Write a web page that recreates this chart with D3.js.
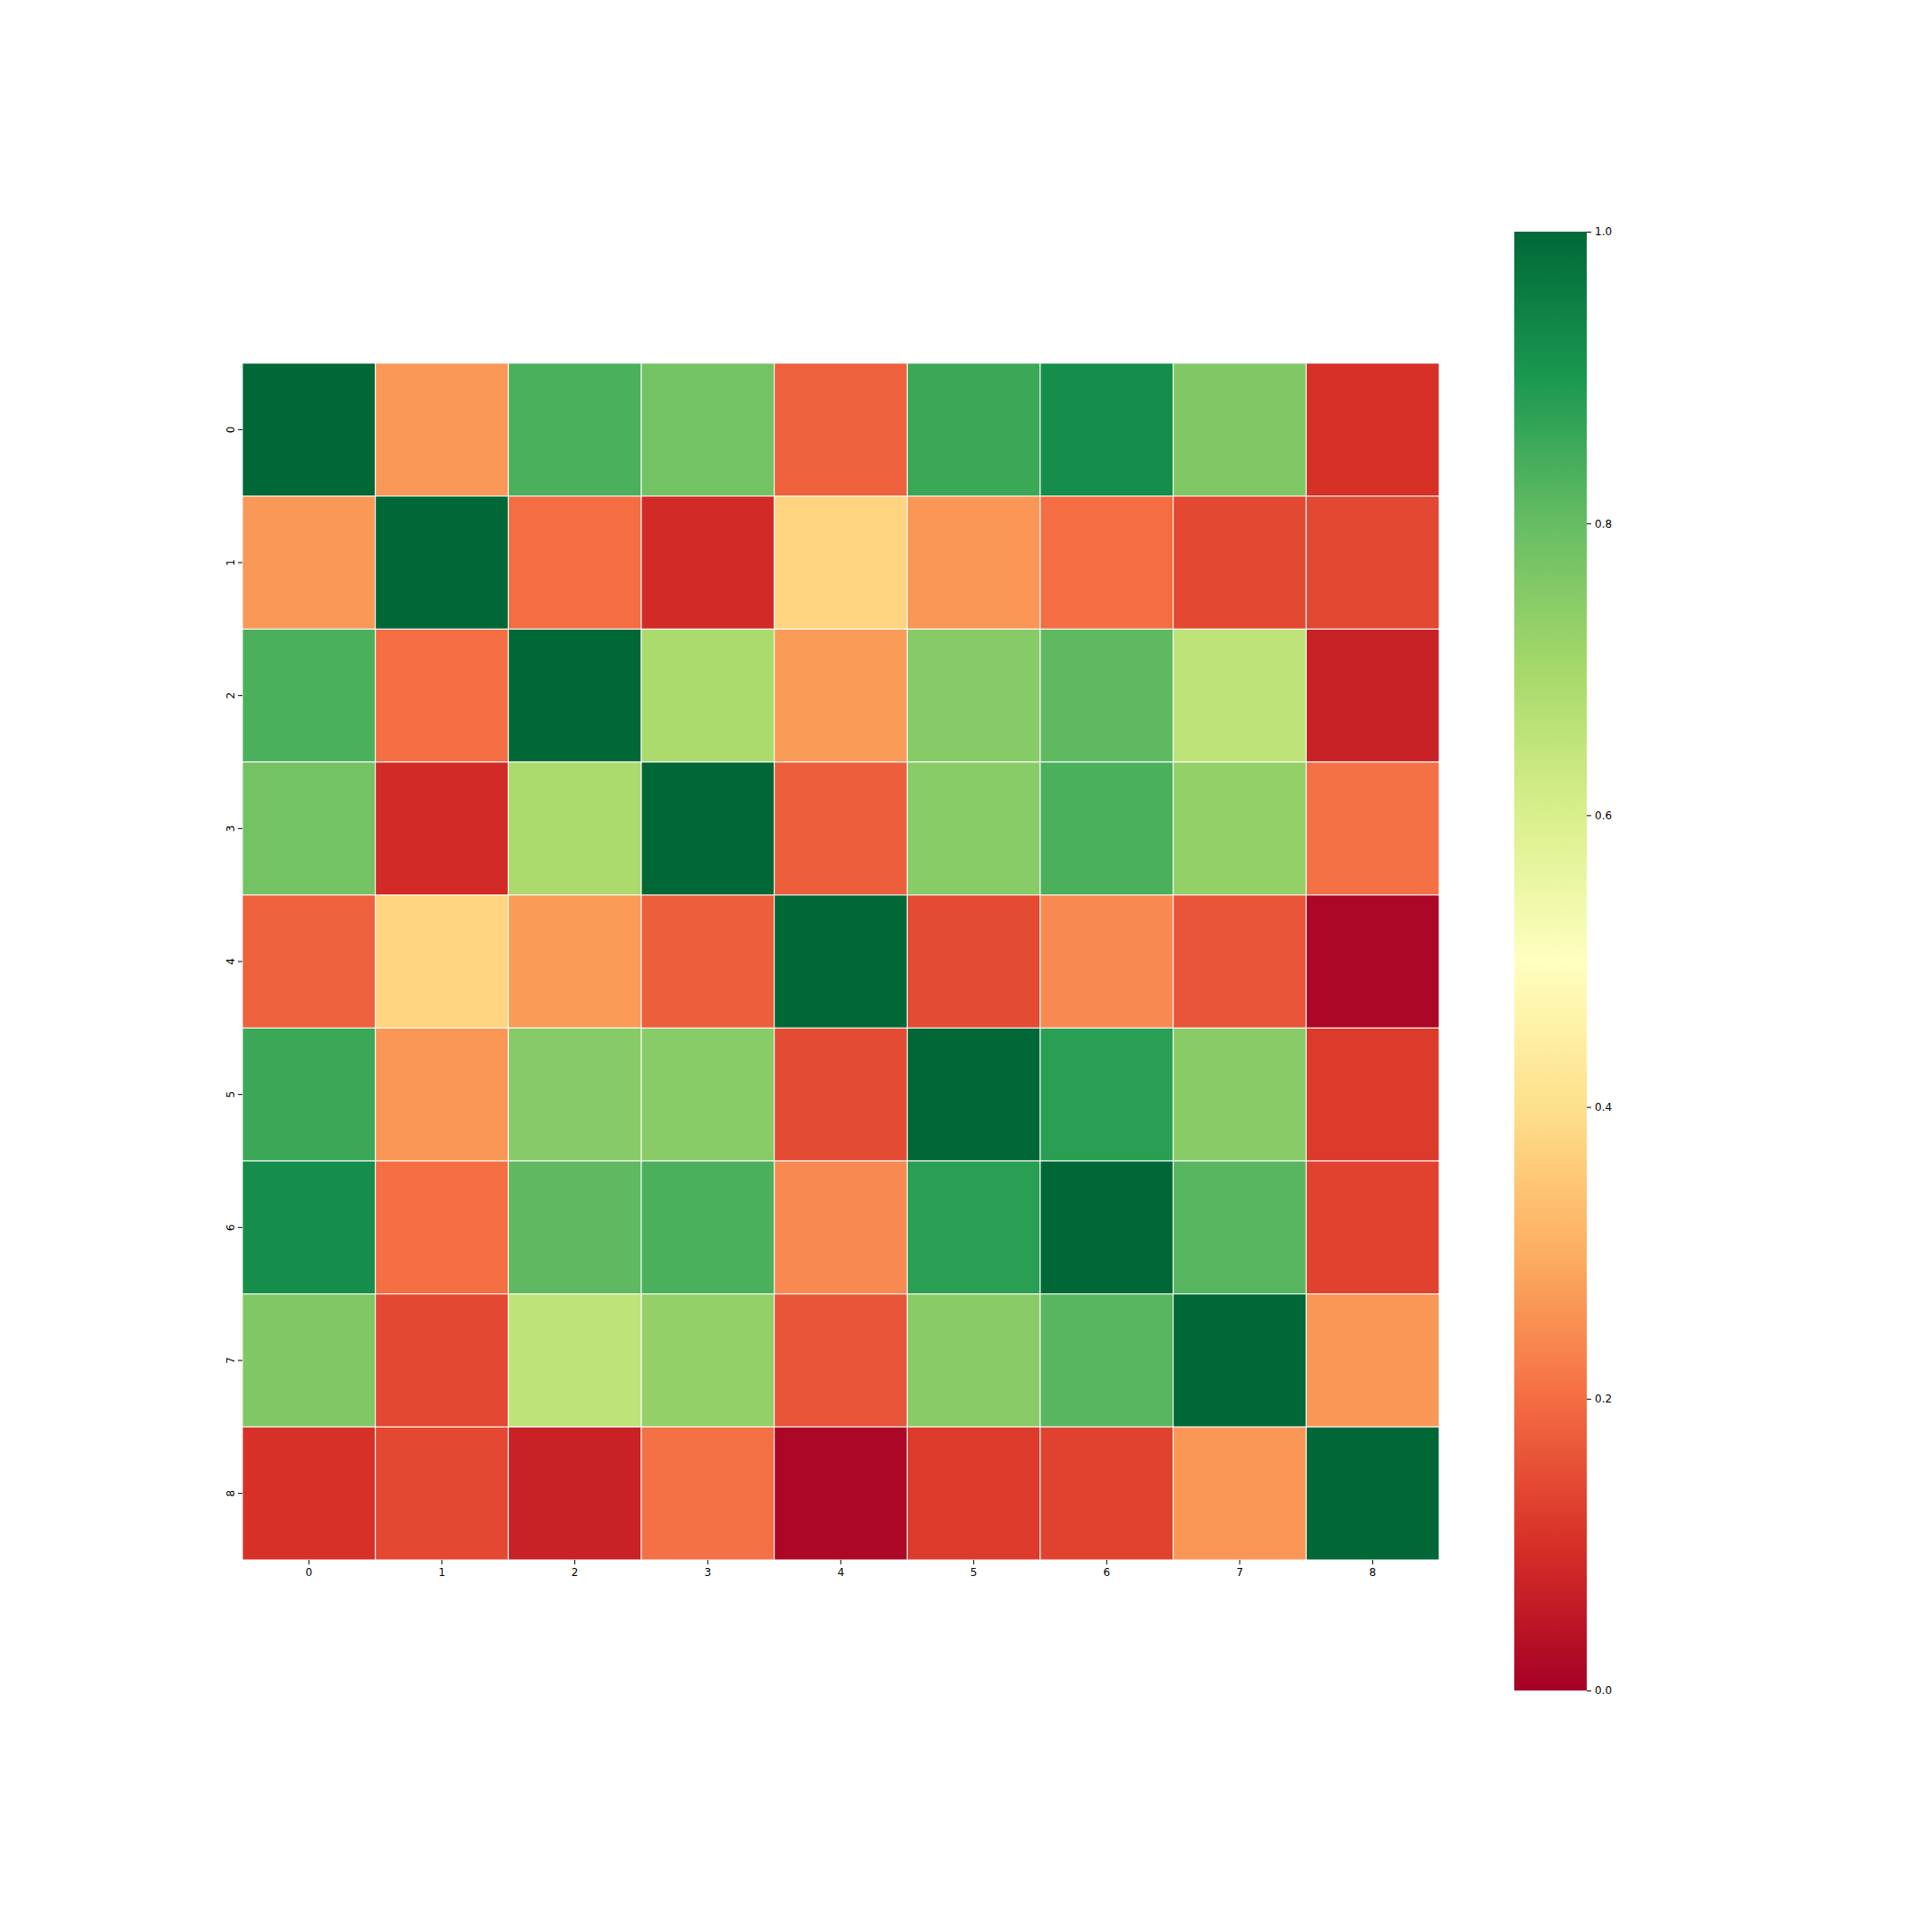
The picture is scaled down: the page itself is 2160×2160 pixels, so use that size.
<!DOCTYPE html>
<html><head><meta charset="utf-8">
<script src="https://cdn.jsdelivr.net/npm/d3@7"></script>
<style>body{margin:0;background:#fff}svg{display:block}text{font-family:"DejaVu Sans",sans-serif;fill:#000}</style>
</head><body>
<script>
const rowLabels = ["0","1","2","3","4","5","6","7","8"];
const colLabels = ["0","1","2","3","4","5","6","7","8"];
const values = [
 [1.000,0.266,0.836,0.780,0.180,0.857,0.920,0.760,0.100],
 [0.266,1.000,0.200,0.090,0.376,0.265,0.200,0.140,0.140],
 [0.836,0.200,1.000,0.690,0.270,0.750,0.810,0.655,0.070],
 [0.780,0.090,0.690,1.000,0.175,0.747,0.835,0.730,0.205],
 [0.180,0.376,0.270,0.175,1.000,0.144,0.245,0.160,0.014],
 [0.857,0.265,0.750,0.747,0.144,1.000,0.880,0.745,0.116],
 [0.920,0.200,0.810,0.835,0.245,0.880,1.000,0.820,0.130],
 [0.760,0.140,0.655,0.730,0.160,0.745,0.820,1.000,0.265],
 [0.100,0.140,0.070,0.205,0.014,0.116,0.130,0.265,1.000]
];
const cbTicks = [0.0,0.2,0.4,0.6,0.8,1.0];
const rdylgn = ["#a50026","#d73027","#f46d43","#fdae61","#fee08b","#ffffbf","#d9ef8b","#a6d96a","#66bd63","#1a9850","#006837"];

const W=2160,H=2160;
const svg=d3.select("body").append("svg").attr("width",W).attr("height",H);
const color=d3.scaleLinear().domain(d3.range(11).map(i=>i/10)).range(rdylgn).interpolate(d3.interpolateRgb).clamp(true);
const x=d3.scaleBand().domain(colLabels).range([271,1609]);
const y=d3.scaleBand().domain(rowLabels).range([406,1744]);

const cells=[];
values.forEach((r,i)=>r.forEach((v,j)=>cells.push({r:rowLabels[i],c:colLabels[j],v})));
svg.append("g").selectAll("rect").data(cells).join("rect")
 .attr("x",d=>x(d.c)).attr("y",d=>y(d.r))
 .attr("width",x.bandwidth()).attr("height",y.bandwidth())
 .attr("fill",d=>color(d.v)).attr("stroke","#fff").attr("stroke-width",1);

const xa=svg.append("g").attr("transform","translate(0,1744)")
 .call(d3.axisBottom(x).tickSize(5).tickPadding(4));
xa.select(".domain").remove();
xa.selectAll("text").style("font-size","12px").attr("fill","#000");
xa.selectAll("line").attr("stroke","#000");

const ya=svg.append("g").attr("transform","translate(271,0)")
 .call(d3.axisLeft(y).tickSize(5).tickPadding(4));
ya.select(".domain").remove();
ya.selectAll("line").attr("stroke","#000");
ya.selectAll("text").style("font-size","12px").attr("fill","#000")
 .attr("text-anchor","middle")
 .each(function(){
   d3.select(this).attr("x",null).attr("y",null)
    .attr("transform","translate(-13,0) rotate(-90)").attr("dy","0.35em");
 });

// colorbar
const cb={x0:1693,x1:1774,y0:259,y1:1890};
const defs=svg.append("defs");
const grad=defs.append("linearGradient").attr("id","cbg").attr("x1","0").attr("x2","0").attr("y1","1").attr("y2","0");
d3.range(0,1.0001,0.01).forEach(t=>grad.append("stop").attr("offset",t).attr("stop-color",color(t)));
svg.append("rect").attr("x",cb.x0).attr("y",cb.y0).attr("width",cb.x1-cb.x0).attr("height",cb.y1-cb.y0).attr("fill","url(#cbg)");
const cy=d3.scaleLinear().domain([0,1]).range([cb.y1,cb.y0]);
const ca=svg.append("g").attr("transform",`translate(${cb.x1},0)`)
 .call(d3.axisRight(cy).tickValues(cbTicks).tickFormat(d3.format(".1f")).tickSize(5).tickPadding(4));
ca.select(".domain").remove();
ca.selectAll("line").attr("stroke","#000");
ca.selectAll("text").style("font-size","12px").attr("fill","#000");
</script>
</body></html>
